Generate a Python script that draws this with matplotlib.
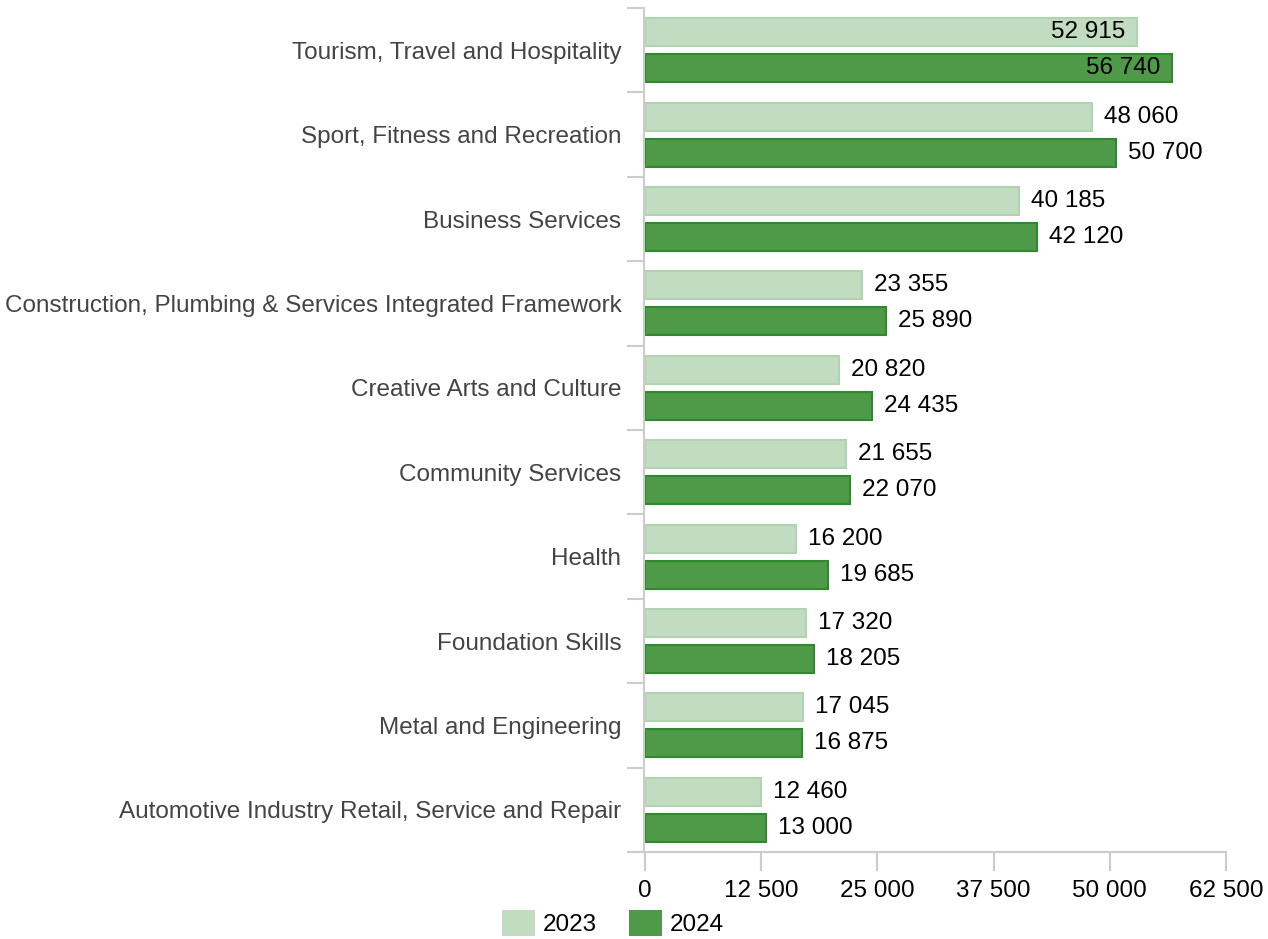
import numpy as np
import matplotlib.pyplot as plt
from matplotlib.patches import Patch

categories = ['Tourism, Travel and Hospitality', 'Sport, Fitness and Recreation',
              'Business Services', 'Construction, Plumbing & Services Integrated Framework',
              'Creative Arts and Culture', 'Community Services', 'Health',
              'Foundation Skills', 'Metal and Engineering',
              'Automotive Industry Retail, Service and Repair']
vals_2023 = [52915, 48060, 40185, 23355, 20820, 21655, 16200, 17320, 17045, 12460]
vals_2024 = [56740, 50700, 42120, 25890, 24435, 22070, 19685, 18205, 16875, 13000]
xticks = [0, 12500, 25000, 37500, 50000, 62500]

plt.rcParams['font.family'] = ['Liberation Sans', 'DejaVu Sans']
plt.rcParams['font.size'] = 17.5

light, light_edge = '#c1dcc0', '#b2d3b1'
dark, dark_edge = '#4f9a49', '#2f8a2d'
grey = '#cccccc'

def fmt(v):
    return f'{v:,}'.replace(',', ' ')

fig = plt.figure(figsize=(12.68, 9.39), dpi=100)
ax = fig.add_axes([645 / 1268, 1 - 852 / 939, 581 / 1268, 844 / 939])

y = np.arange(len(categories))
h = 0.33
off = 0.213
ax.barh(y - off, vals_2023, height=h, color=light, edgecolor=light_edge, linewidth=1.5)
ax.barh(y + off, vals_2024, height=h, color=dark, edgecolor=dark_edge, linewidth=1.5)

for i in range(len(categories)):
    for v, yy in ((vals_2023[i], y[i] - off), (vals_2024[i], y[i] + off)):
        if v > 52000:
            ax.annotate(fmt(v), (v, yy), xytext=(-12, 0), textcoords='offset pixels',
                        ha='right', va='center', color='black')
        else:
            ax.annotate(fmt(v), (v, yy), xytext=(12, 0), textcoords='offset pixels',
                        ha='left', va='center', color='black')

ax.set_xlim(0, 62500)
ax.set_ylim(len(categories) - 0.5, -0.5)
ax.set_xticks(xticks)
ax.set_xticklabels([fmt(t) for t in xticks])
ax.set_yticks(np.arange(len(categories) + 1) - 0.5)
ax.set_yticklabels([])
ax.set_yticks(y, minor=True)
ax.set_yticklabels(categories, minor=True)
ax.tick_params(axis='y', which='minor', length=0, pad=16, labelcolor='#444444')
ax.tick_params(axis='y', which='major', length=12, width=1.5, color=grey)
ax.tick_params(axis='x', length=14, width=1.5, color=grey, pad=6)

for s in ['top', 'right']:
    ax.spines[s].set_visible(False)
for s in ['left', 'bottom']:
    ax.spines[s].set_color(grey)
    ax.spines[s].set_linewidth(1.5)
ax.spines['left'].set_position(('outward', 1))

handles = [Patch(facecolor=light, edgecolor='none', label='2023'),
           Patch(facecolor=dark, edgecolor='none', label='2024')]
fig.legend(handles=handles, loc='center', bbox_to_anchor=(613 / 1268, 1 - 923 / 939),
           ncol=2, frameon=False, handlelength=1.35, handleheight=1.3,
           handletextpad=0.35, columnspacing=1.3, borderpad=0)

fig.savefig('out.png', dpi=100)
